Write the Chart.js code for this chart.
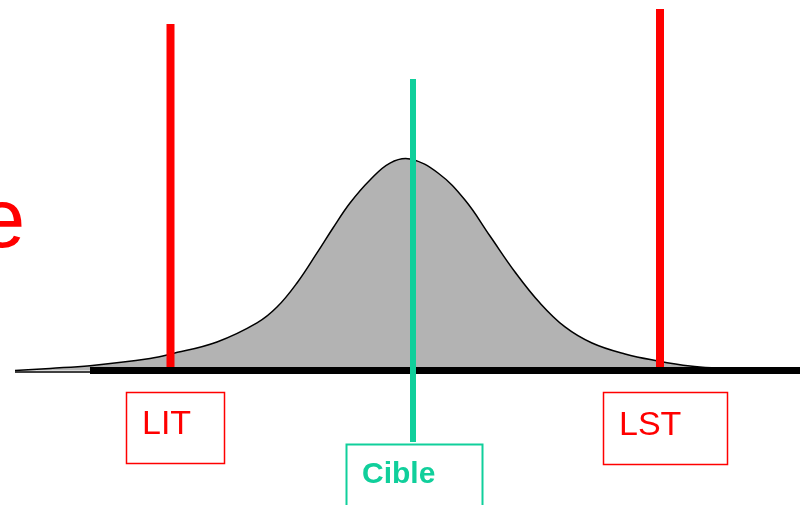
<!DOCTYPE html>
<html lang="fr">
<head>
<meta charset="utf-8">
<script src="https://cdn.jsdelivr.net/npm/chart.js@4.4.0/dist/chart.umd.min.js"></script>
<style>
  html, body { margin: 0; padding: 0; background: #fff; }
  #zone { width: 802px; height: 505px; position: relative; }
</style>
</head>
<body>
<div id="zone"><canvas id="graphe"></canvas></div>
<script>
// Courbe de distribution (x = mesure, y = densité relative, pic = 100)
const courbeX = [1.5, 5, 9, 15, 17.1, 21.7, 25.7, 27.7, 29.7, 31.7, 33.3, 35, 37, 39, 41, 43.8, 46.5, 49.0, 51.5, 54.0, 56.5, 59.2, 62.5, 65.8, 69, 72, 75];
const courbeY = [0, 1.0, 2.3, 5.7, 7.8, 13.5, 22.5, 30.0, 41.4, 55.6, 67.4, 79.2, 90.1, 98.1, 100, 93.4, 80.6, 63.6, 46.6, 31.9, 20.6, 13.0, 7.8, 4.5, 2.1, 1.0, 0.2];

// Limites de tolérance et cible
const limitesNoms = ["LIT", "LST"];
const limitesX = [17.05, 66.0];
const limitesHaut = [163.8, 170.9];
const cibleNom = "Cible";
const cibleX = 41.3;
const cibleBas = -33.8;
const cibleHaut = 137.8;

// Axe de base
const baseFinX = [1.5, 9.0];
const baseEpaisseX = [9.0, 80.0];

const rouge = "#FF0000";
const vert = "#10CF9B";

function segment(xs, ys) {
  return xs.map((x, i) => ({ x, y: ys[i] }));
}

const jeux = [];

// Courbe grise
jeux.push({
  data: segment(courbeX, courbeY),
  borderColor: "#000",
  borderWidth: 1.5,
  backgroundColor: "#B3B3B3",
  fill: "origin",
  tension: 0.4,
  pointRadius: 0,
  order: 10
});

// Base fine à gauche
jeux.push({
  data: segment(baseFinX, [-0.7, -0.7]),
  borderColor: "#000",
  borderWidth: 1.5,
  pointRadius: 0,
  order: 9
});

// Limites rouges
limitesX.forEach((x, i) => {
  jeux.push({
    data: segment([x, x], [0, limitesHaut[i]]),
    borderColor: rouge,
    borderWidth: 8,
    borderCapStyle: "butt",
    pointRadius: 0,
    order: 8
  });
});

// Base épaisse
jeux.push({
  data: segment(baseEpaisseX, [0, 0]),
  borderColor: "#000",
  borderWidth: 7,
  borderCapStyle: "butt",
  pointRadius: 0,
  order: 7
});

// Ligne cible
jeux.push({
  data: segment([cibleX, cibleX], [cibleBas, cibleHaut]),
  borderColor: vert,
  borderWidth: 6,
  borderCapStyle: "butt",
  pointRadius: 0,
  order: 6
});

// Cadres et textes
const etiquettes = {
  id: "etiquettes",
  afterDatasetsDraw(chart) {
    const ctx = chart.ctx;
    const sx = chart.scales.x;
    ctx.save();

    // morceau de titre coupé à gauche
    ctx.fillStyle = rouge;
    ctx.font = "83px 'Liberation Sans', Arial, sans-serif";
    ctx.textAlign = "left";
    ctx.textBaseline = "alphabetic";
    ctx.fillText("e", -21, 247);

    const boites = [
      { nom: limitesNoms[0], x: limitesX[0], dx: 4.5, w: 98, top: 392, h: 71, couleur: rouge, police: "34px", trait: 1.5, base: 434 },
      { nom: limitesNoms[1], x: limitesX[1], dx: 5, w: 124, top: 392, h: 72, couleur: rouge, police: "34px", trait: 1.5, base: 435 },
      { nom: cibleNom, x: cibleX, dx: 1, w: 136, top: 444, h: 80, couleur: vert, police: "bold 30px", trait: 2, base: 483 }
    ];
    boites.forEach(b => {
      const cx = sx.getPixelForValue(b.x) + b.dx;
      const gauche = Math.round(cx - b.w / 2);
      ctx.strokeStyle = b.couleur;
      ctx.lineWidth = b.trait;
      ctx.strokeRect(gauche + 0.5, b.top + 0.5, b.w, b.h);
      ctx.fillStyle = b.couleur;
      ctx.font = b.police + " 'Liberation Sans', Arial, sans-serif";
      ctx.fillText(b.nom, gauche + 16, b.base);
    });
    ctx.restore();
  }
};

new Chart(document.getElementById("graphe"), {
  type: "line",
  data: { datasets: jeux },
  options: {
    responsive: true,
    maintainAspectRatio: false,
    animation: false,
    layout: { padding: 0 },
    plugins: {
      legend: { display: false },
      tooltip: { enabled: false }
    },
    elements: { line: { tension: 0 } },
    scales: {
      x: { type: "linear", min: 0, max: 80.2, display: false },
      y: { type: "linear", min: -63.6, max: 175.2, display: false }
    }
  },
  plugins: [etiquettes]
});
</script>
</body>
</html>
